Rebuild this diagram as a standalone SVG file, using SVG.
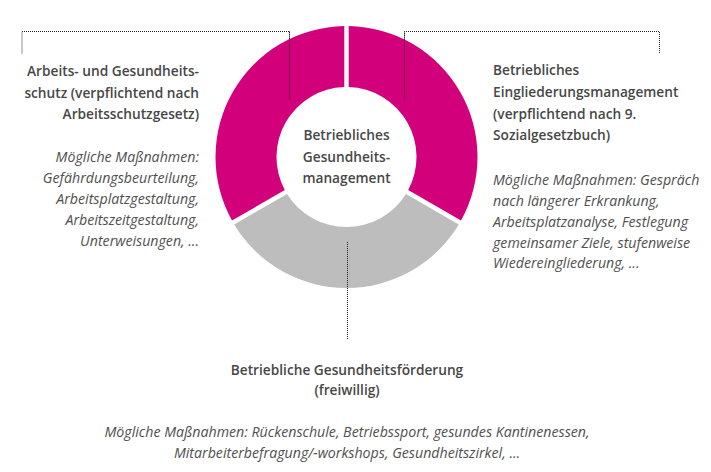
<svg xmlns="http://www.w3.org/2000/svg" width="711" height="472" viewBox="0 0 711 472">
<style>
.bg{fill:#ffffff}
.mag{fill:#d2007a}
.gry{fill:#bdbdbd}
.t{font-family:"Open Sans","Noto Sans",sans-serif;font-size:13.7px;font-weight:600;fill:#474747}
.i{font-family:"Open Sans","Noto Sans",sans-serif;font-size:14.2px;font-style:italic;fill:#505050}
.dot{fill:none;stroke:#222222;stroke-width:1;stroke-dasharray:1 1}
</style>
<rect class="bg" x="0" y="0" width="711" height="472"/>
<g id="connectors">
<path class="dot" d="M22,53.5 V31.5 H289.5 V100"/>
<path class="dot" d="M404.5,100 V31.5 H659.5 V53.5"/>
<path class="dot" d="M347.5,242 V340"/>
</g>
<g id="segment-left">
<path class="mag" d="M231.97,220.58 A131,131 0 0 1 344.3,26.02 L344.3,87.03 A70,70 0 0 0 284.81,190.08 Z"/>
</g>
<g id="segment-right">
<path class="mag" d="M348.7,26.02 A131,131 0 0 1 461.03,220.58 L408.19,190.08 A70,70 0 0 0 348.7,87.03 Z"/>
</g>
<g id="segment-bottom">
<path class="gry" d="M458.83,224.4 A131,131 0 0 1 234.17,224.4 L287.01,193.89 A70,70 0 0 0 405.99,193.89 Z"/>
</g>
<g id="connectors-over">
<path class="dot" d="M289.5,31.5 V100"/>
<path class="dot" d="M404.5,31.5 V100"/>
<path class="dot" d="M347.5,242 V290"/>
</g>
<g id="node-center">
<text class="t" text-anchor="middle" x="346.5" y="140">Betriebliches</text>
<text class="t" text-anchor="middle" x="346.5" y="162">Gesundheits-</text>
<text class="t" text-anchor="middle" x="346.5" y="183">management</text>
</g>
<g id="node-left" text-anchor="end">
<text class="t" x="199" y="76">Arbeits- und Gesundheits-</text>
<text class="t" x="199" y="97.5">schutz (verpflichtend nach</text>
<text class="t" x="199" y="119">Arbeitsschutzgesetz)</text>
<text class="i" x="199" y="162">Mögliche Maßnahmen:</text>
<text class="i" x="199" y="183">Gefährdungsbeurteilung,</text>
<text class="i" x="199" y="204">Arbeitsplatzgestaltung,</text>
<text class="i" x="199" y="225">Arbeitszeitgestaltung,</text>
<text class="i" x="199" y="246">Unterweisungen, ...</text>
</g>
<g id="node-right">
<text class="t" x="493" y="75">Betriebliches</text>
<text class="t" x="493" y="97">Eingliederungsmanagement</text>
<text class="t" x="493" y="118.5">(verpflichtend nach 9.</text>
<text class="t" x="493" y="140">Sozialgesetzbuch)</text>
<text class="i" x="493" y="185">Mögliche Maßnahmen: Gespräch</text>
<text class="i" x="493" y="206">nach längerer Erkrankung,</text>
<text class="i" x="493" y="227">Arbeitsplatzanalyse, Festlegung</text>
<text class="i" x="493" y="247.5">gemeinsamer Ziele, stufenweise</text>
<text class="i" x="493" y="268">Wiedereingliederung, ...</text>
</g>
<g id="node-bottom" text-anchor="middle">
<text class="t" x="347" y="375">Betriebliche Gesundheitsförderung</text>
<text class="t" x="347" y="395">(freiwillig)</text>
<text class="i" x="347" y="437">Mögliche Maßnahmen: Rückenschule, Betriebssport, gesundes Kantinenessen,</text>
<text class="i" x="347" y="458">Mitarbeiterbefragung/-workshops, Gesundheitszirkel, ...</text>
</g>
</svg>
